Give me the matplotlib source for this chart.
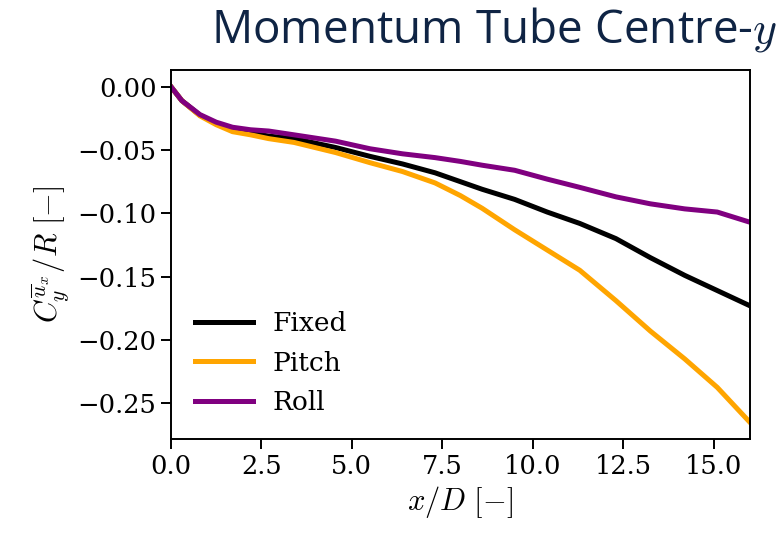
import matplotlib
matplotlib.use("Agg")
import matplotlib.pyplot as plt

plt.rcParams['font.family'] = 'DejaVu Serif'
plt.rcParams['mathtext.fontset'] = 'cm'

# x/D positions where the curves were read
x_d = [0.0, 0.3, 0.8, 1.25, 1.7, 2.2, 2.7, 3.4, 4.55, 5.5, 6.4, 7.3, 8.0,
       8.6, 9.5, 10.4, 11.3, 12.3, 13.25, 14.2, 15.1, 16.0]

fixed = [0.0, -0.011, -0.0225, -0.029, -0.034, -0.0365, -0.039, -0.041,
         -0.048, -0.055, -0.061, -0.068, -0.075, -0.081, -0.089, -0.099,
         -0.108, -0.120, -0.135, -0.149, -0.161, -0.173]
pitch = [0.0, -0.011, -0.023, -0.030, -0.0355, -0.038, -0.041, -0.044,
         -0.052, -0.060, -0.067, -0.076, -0.086, -0.096, -0.113, -0.129,
         -0.145, -0.169, -0.193, -0.215, -0.2375, -0.265]
roll = [0.0, -0.011, -0.022, -0.028, -0.032, -0.034, -0.035, -0.038, -0.043,
        -0.049, -0.053, -0.056, -0.059, -0.062, -0.066, -0.073, -0.0795,
        -0.087, -0.0925, -0.0965, -0.099, -0.107]

fig = plt.figure(figsize=(7.79, 5.34), dpi=100)
ax = fig.add_axes([0.2195, 0.178, 0.743, 0.691])

ax.plot(x_d, fixed, color='black', lw=3.6, label='Fixed')
ax.plot(x_d, pitch, color='orange', lw=3.6, label='Pitch')
ax.plot(x_d, roll, color='purple', lw=3.6, label='Roll')

ax.set_xlim(0, 16)
ax.set_xticks([0, 2.5, 5, 7.5, 10, 12.5, 15])
ax.set_yticks([0, -0.05, -0.10, -0.15, -0.20, -0.25])
ax.tick_params(labelsize=18.5, length=7, width=1.4)
for s in ax.spines.values():
    s.set_linewidth(1.4)

ax.set_xlabel(r'$x/D\ [-]$', fontsize=22)
ax.set_ylabel(r'$C_y^{\overline{u}_x}/R\ [-]$', fontsize=22)
ax.legend(loc='lower left', frameon=False, fontsize=19, labelspacing=0.55,
          handlelength=2.2, handletextpad=0.75)

fig.text(0.998, 0.92, r'Momentum Tube Centre-$y$', ha='right', va='baseline',
         fontsize=33, color='#0f2444', family='Open Sans')

fig.savefig('out.png', dpi=100)
